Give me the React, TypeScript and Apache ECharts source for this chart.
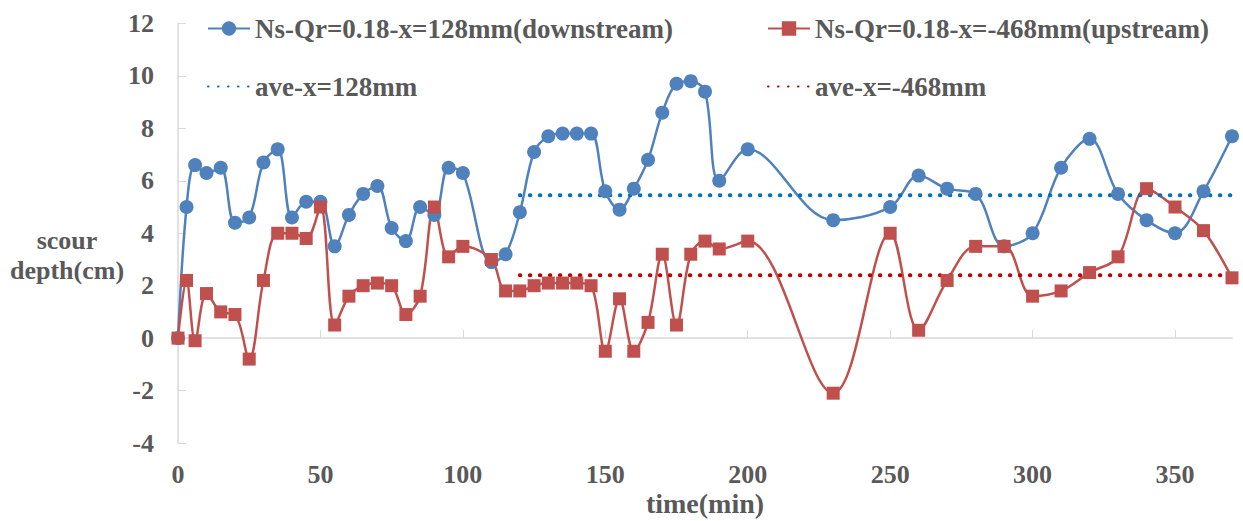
import { useEffect, useRef } from 'react'
import * as echarts from 'echarts'

const times = [
  0, 3, 6, 10, 15, 20, 25, 30, 35, 40, 45, 50, 55, 60, 65, 70, 75, 80, 85, 90, 95, 100, 110, 115, 120,
  125, 130, 135, 140, 145, 150, 155, 160, 165, 170, 175, 180, 185, 190, 200, 230, 250, 260, 270, 280,
  290, 300, 310, 320, 330, 340, 350, 360, 370,
]

const downstream = [
  0, 5.0, 6.6, 6.3, 6.5, 4.4, 4.6, 6.7, 7.2, 4.6, 5.2, 5.2, 3.5, 4.7, 5.5, 5.8, 4.2, 3.7, 5.0, 4.7, 6.5,
  6.3, 2.9, 3.2, 4.8, 7.1, 7.7, 7.8, 7.8, 7.8, 5.6, 4.9, 5.7, 6.8, 8.6, 9.7, 9.8, 9.4, 6.0, 7.2, 4.5, 5.0,
  6.2, 5.7, 5.5, 3.5, 4.0, 6.5, 7.6, 5.5, 4.5, 4.0, 5.6, 7.7,
]

const upstream = [
  0, 2.2, -0.1, 1.7, 1.0, 0.9, -0.8, 2.2, 4.0, 4.0, 3.8, 5.0, 0.5, 1.6, 2.0, 2.1, 2.0, 0.9, 1.6, 5.0, 3.1,
  3.5, 3.0, 1.8, 1.8, 2.0, 2.1, 2.1, 2.1, 2.0, -0.5, 1.5, -0.5, 0.6, 3.2, 0.5, 3.2, 3.7, 3.4, 3.7, -2.1,
  4.0, 0.3, 2.2, 3.5, 3.5, 1.6, 1.8, 2.5, 3.1, 5.7, 5.0, 4.1, 2.3,
]

const aveRange = [120, 370]
const aveDownstream = 5.45
const aveUpstream = 2.4

const xTicks = [0, 50, 100, 150, 200, 250, 300, 350]

const names = [
  'Ns-Qr=0.18-x=128mm(downstream)',
  'Ns-Qr=0.18-x=-468mm(upstream)',
  'ave-x=128mm',
  'ave-x=-468mm',
]

const FONT = 'Liberation Serif'
const GREY = '#595959'

export default function App() {
  const chartRef = useRef<HTMLDivElement | null>(null)

  useEffect(() => {
    if (!chartRef.current) {
      return
    }

    const chart = echarts.init(chartRef.current, null, { renderer: 'svg' })
    const legendText = { fontFamily: FONT, fontWeight: 'bold', fontSize: 27, color: GREY }
    const legend = (name: string, left: number, top: number, hideSymbol = false) => ({
      data: [name],
      left,
      top,
      itemWidth: 42,
      itemHeight: 18,
      textStyle: legendText,
      selectedMode: false,
      ...(hideSymbol ? { itemStyle: { opacity: 0 } } : {}),
    })
    const dotted = (color: string) => ({ color, width: 4, type: [0.5, 9.5], cap: 'round' })

    chart.setOption({
      animation: false,
      legend: [
        legend(names[0], 202, 10),
        legend(names[1], 762, 10),
        legend(names[2], 202, 68, true),
        legend(names[3], 762, 68, true),
      ],
      grid: { left: 178, right: 11, top: 23.5, bottom: 78, outerBoundsMode: 'none' },
      xAxis: {
        type: 'value',
        min: 0,
        max: 370,
        interval: 50,
        name: 'time(min)',
        nameLocation: 'middle',
        nameGap: 46,
        nameMoveOverlap: false,
        nameTextStyle: { fontFamily: FONT, fontWeight: 'bold', fontSize: 28, color: GREY },
        axisLine: { lineStyle: { color: '#d9d9d9', width: 1.5 } },
        axisTick: { inside: true, length: 8, lineStyle: { color: '#d9d9d9' }, customValues: xTicks },
        axisLabel: {
          fontFamily: FONT,
          fontWeight: 'bold',
          fontSize: 26,
          color: GREY,
          margin: 18,
          customValues: xTicks,
        },
        splitLine: { show: false },
      },
      yAxis: {
        type: 'value',
        min: -4,
        max: 12,
        interval: 2,
        axisLine: { show: true, lineStyle: { color: '#d9d9d9', width: 1.5 } },
        axisTick: { show: true, inside: true, length: 8, lineStyle: { color: '#d9d9d9' } },
        axisLabel: { fontFamily: FONT, fontWeight: 'bold', fontSize: 26, color: GREY, margin: 24 },
        splitLine: { show: false },
      },
      graphic: [
        {
          type: 'text',
          x: 67,
          y: 255,
          style: {
            text: 'scour\ndepth(cm)',
            textAlign: 'center',
            textVerticalAlign: 'middle',
            fontFamily: FONT,
            fontWeight: 'bold',
            fontSize: 26,
            lineHeight: 30,
            fill: GREY,
          },
        },
      ],
      series: [
        {
          name: names[0],
          type: 'line',
          smooth: 0.35,
          symbol: 'circle',
          symbolSize: 14,
          itemStyle: { color: '#4f81bd' },
          lineStyle: { color: '#4f81bd', width: 2.5 },
          data: times.map((t, i) => [t, downstream[i]]),
        },
        {
          name: names[1],
          type: 'line',
          smooth: 0.35,
          symbol: 'rect',
          symbolSize: 13,
          itemStyle: { color: '#c0504d' },
          lineStyle: { color: '#c0504d', width: 2.5 },
          data: times.map((t, i) => [t, upstream[i]]),
        },
        {
          name: names[2],
          type: 'line',
          symbol: 'none',
          itemStyle: { color: '#0070c0' },
          lineStyle: dotted('#0070c0'),
          data: aveRange.map((t) => [t, aveDownstream]),
        },
        {
          name: names[3],
          type: 'line',
          symbol: 'none',
          itemStyle: { color: '#c00000' },
          lineStyle: dotted('#c00000'),
          data: aveRange.map((t) => [t, aveUpstream]),
        },
      ],
    })

    return () => {
      chart.dispose()
    }
  }, [])

  return (
    <div
      ref={chartRef}
      style={{ position: 'fixed', left: 0, top: 0, width: 1243, height: 521, background: '#fff' }}
    />
  )
}
